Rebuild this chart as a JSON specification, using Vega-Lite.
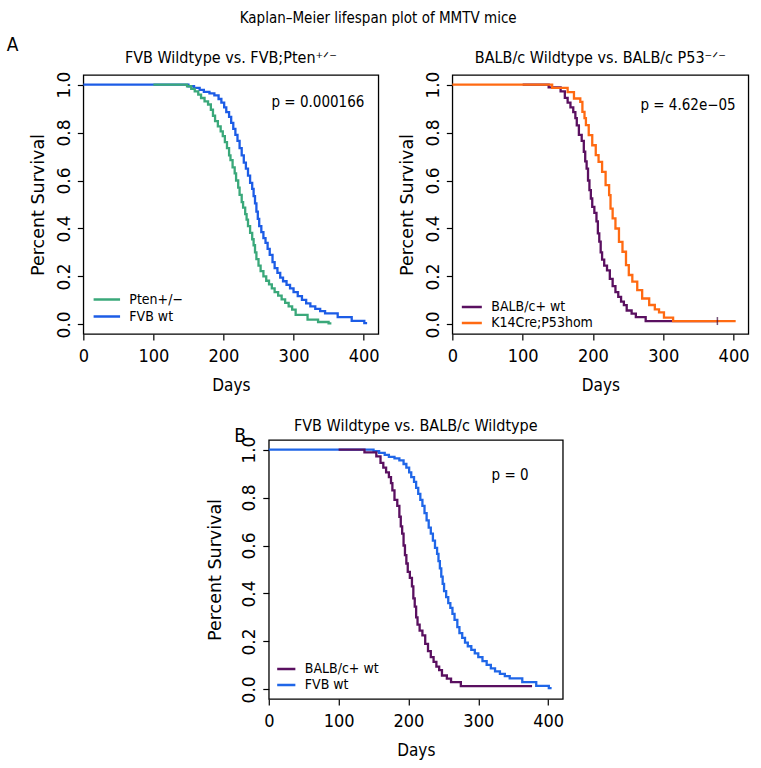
{
  "$schema": "https://vega.github.io/schema/vega-lite/v6.json",
  "background": "white",
  "padding": {"left": 6, "top": 11, "right": 5, "bottom": 5},
  "title": {"text": "Kaplan–Meier lifespan plot of MMTV mice", "fontSize": 15, "anchor": "middle", "offset": 10},
  "datasets": {
    "fvb": [
      {"days": 0, "surv": 1}, {"days": 150, "surv": 0.993}, {"days": 158, "surv": 0.986}, {"days": 166, "surv": 0.978},
      {"days": 172, "surv": 0.97}, {"days": 180, "surv": 0.963}, {"days": 187, "surv": 0.955}, {"days": 193, "surv": 0.94},
      {"days": 197, "surv": 0.925}, {"days": 201, "surv": 0.905}, {"days": 204, "surv": 0.885}, {"days": 208, "surv": 0.865},
      {"days": 211, "surv": 0.84}, {"days": 214, "surv": 0.815}, {"days": 217, "surv": 0.79}, {"days": 220, "surv": 0.765},
      {"days": 223, "surv": 0.735}, {"days": 226, "surv": 0.705}, {"days": 229, "surv": 0.675}, {"days": 232, "surv": 0.65},
      {"days": 235, "surv": 0.62}, {"days": 238, "surv": 0.59}, {"days": 241, "surv": 0.565}, {"days": 243, "surv": 0.535},
      {"days": 245, "surv": 0.505}, {"days": 247, "surv": 0.47}, {"days": 249, "surv": 0.44}, {"days": 251, "surv": 0.41},
      {"days": 254, "surv": 0.385}, {"days": 257, "surv": 0.36}, {"days": 260, "surv": 0.34}, {"days": 263, "surv": 0.315},
      {"days": 266, "surv": 0.29}, {"days": 270, "surv": 0.26}, {"days": 273, "surv": 0.235}, {"days": 277, "surv": 0.215},
      {"days": 281, "surv": 0.195}, {"days": 285, "surv": 0.18}, {"days": 290, "surv": 0.165}, {"days": 295, "surv": 0.15},
      {"days": 300, "surv": 0.135}, {"days": 306, "surv": 0.118}, {"days": 312, "surv": 0.102}, {"days": 318, "surv": 0.088},
      {"days": 324, "surv": 0.075}, {"days": 331, "surv": 0.065}, {"days": 338, "surv": 0.055}, {"days": 345, "surv": 0.046},
      {"days": 363, "surv": 0.03}, {"days": 383, "surv": 0.015}, {"days": 401, "surv": 0.005}, {"days": 405, "surv": 0.005}
    ],
    "pten": [
      {"days": 100, "surv": 1}, {"days": 148, "surv": 0.993}, {"days": 154, "surv": 0.982}, {"days": 159, "surv": 0.972},
      {"days": 164, "surv": 0.958}, {"days": 168, "surv": 0.944}, {"days": 173, "surv": 0.93}, {"days": 178, "surv": 0.917},
      {"days": 182, "surv": 0.895}, {"days": 185, "surv": 0.87}, {"days": 188, "surv": 0.848}, {"days": 192, "surv": 0.826},
      {"days": 196, "surv": 0.805}, {"days": 199, "surv": 0.785}, {"days": 202, "surv": 0.76}, {"days": 205, "surv": 0.735},
      {"days": 208, "surv": 0.705}, {"days": 210, "surv": 0.685}, {"days": 213, "surv": 0.655}, {"days": 216, "surv": 0.63},
      {"days": 218, "surv": 0.6}, {"days": 221, "surv": 0.57}, {"days": 223, "surv": 0.54}, {"days": 226, "surv": 0.51},
      {"days": 228, "surv": 0.487}, {"days": 231, "surv": 0.46}, {"days": 233, "surv": 0.437}, {"days": 235, "surv": 0.41},
      {"days": 238, "surv": 0.382}, {"days": 241, "surv": 0.355}, {"days": 243, "surv": 0.33}, {"days": 245, "surv": 0.3},
      {"days": 247, "surv": 0.272}, {"days": 250, "surv": 0.245}, {"days": 253, "surv": 0.222}, {"days": 257, "surv": 0.2},
      {"days": 261, "surv": 0.182}, {"days": 265, "surv": 0.167}, {"days": 269, "surv": 0.15}, {"days": 273, "surv": 0.135},
      {"days": 278, "surv": 0.12}, {"days": 283, "surv": 0.104}, {"days": 288, "surv": 0.09}, {"days": 293, "surv": 0.075},
      {"days": 298, "surv": 0.062}, {"days": 303, "surv": 0.04}, {"days": 320, "surv": 0.02}, {"days": 335, "surv": 0.01},
      {"days": 350, "surv": 0.004}, {"days": 354, "surv": 0.004}
    ],
    "balb": [
      {"days": 100, "surv": 1}, {"days": 137, "surv": 0.988}, {"days": 154, "surv": 0.972}, {"days": 160, "surv": 0.945},
      {"days": 164, "surv": 0.925}, {"days": 168, "surv": 0.905}, {"days": 172, "surv": 0.885}, {"days": 175, "surv": 0.86},
      {"days": 177, "surv": 0.83}, {"days": 180, "surv": 0.79}, {"days": 184, "surv": 0.765}, {"days": 187, "surv": 0.72},
      {"days": 189, "surv": 0.68}, {"days": 191, "surv": 0.65}, {"days": 193, "surv": 0.6}, {"days": 195, "surv": 0.56},
      {"days": 197, "surv": 0.525}, {"days": 199, "surv": 0.49}, {"days": 202, "surv": 0.465}, {"days": 205, "surv": 0.43},
      {"days": 207, "surv": 0.38}, {"days": 209, "surv": 0.345}, {"days": 211, "surv": 0.3}, {"days": 213, "surv": 0.27},
      {"days": 216, "surv": 0.245}, {"days": 220, "surv": 0.225}, {"days": 224, "surv": 0.19}, {"days": 228, "surv": 0.16},
      {"days": 232, "surv": 0.135}, {"days": 236, "surv": 0.115}, {"days": 240, "surv": 0.095}, {"days": 244, "surv": 0.08},
      {"days": 248, "surv": 0.058}, {"days": 255, "surv": 0.045}, {"days": 261, "surv": 0.03}, {"days": 275, "surv": 0.014},
      {"days": 377, "surv": 0.014}
    ],
    "p53": [
      {"days": 0, "surv": 1}, {"days": 142, "surv": 0.986}, {"days": 164, "surv": 0.969}, {"days": 173, "surv": 0.942},
      {"days": 182, "surv": 0.928}, {"days": 185, "surv": 0.886}, {"days": 188, "surv": 0.86}, {"days": 190, "surv": 0.831},
      {"days": 194, "surv": 0.789}, {"days": 199, "surv": 0.747}, {"days": 204, "surv": 0.706}, {"days": 208, "surv": 0.678},
      {"days": 213, "surv": 0.636}, {"days": 218, "surv": 0.581}, {"days": 223, "surv": 0.539}, {"days": 225, "surv": 0.483},
      {"days": 228, "surv": 0.442}, {"days": 232, "surv": 0.4}, {"days": 237, "surv": 0.344}, {"days": 242, "surv": 0.303},
      {"days": 247, "surv": 0.247}, {"days": 251, "surv": 0.206}, {"days": 256, "surv": 0.178}, {"days": 263, "surv": 0.143},
      {"days": 270, "surv": 0.108}, {"days": 280, "surv": 0.081}, {"days": 288, "surv": 0.063}, {"days": 294, "surv": 0.05},
      {"days": 301, "surv": 0.028}, {"days": 314, "surv": 0.014}, {"days": 403, "surv": 0.014}
    ],
    "censor": [{"days": 377, "surv": 0.014}]
  },
  "config": {
    "font": "'DejaVu Sans Condensed', sans-serif",
    "view": {"stroke": "black", "strokeWidth": 1.3},
    "title": {"font": "'DejaVu Sans Condensed', sans-serif", "fontSize": 16, "fontWeight": "normal", "color": "black"},
    "axis": {"grid": false, "domain": false, "ticks": true, "tickColor": "black", "tickSize": 6, "tickWidth": 1.2,
      "labelFont": "'DejaVu Sans Condensed', sans-serif", "labelFontSize": 18, "labelColor": "black",
      "titleFont": "'DejaVu Sans Condensed', sans-serif", "titleFontSize": 17, "titleFontWeight": "normal", "titleColor": "black",
      "labelFlush": false, "labelOverlap": false},
    "axisX": {"labelPadding": 7, "titlePadding": 12},
    "axisY": {"labelAngle": 270, "labelAlign": "center", "labelBaseline": "alphabetic", "labelPadding": 8, "titlePadding": 8,
      "labelFont": "'DejaVu Sans', sans-serif", "labelFontSize": 17, "titleFont": "'DejaVu Sans', sans-serif", "titleFontSize": 17.5},
    "legend": {"labelFont": "'DejaVu Sans Condensed', sans-serif", "labelFontSize": 14, "labelColor": "black"},
    "text": {"font": "'DejaVu Sans Condensed', sans-serif", "color": "black", "fontSize": 15}
  },
  "vconcat": [
    {
      "title": {"text": "A", "anchor": "start", "frame": "bounds", "fontSize": 19, "dx": -22, "dy": 6, "offset": 0},
      "spacing": 17,
      "resolve": {"scale": {"color": "independent"}, "legend": {"color": "independent"}},
      "hconcat": [
        {
          "width": 295, "height": 259,
          "title": {"text": "FVB Wildtype vs. FVB;Pten⁺ᐟ⁻", "offset": 5},
          "encoding": {
            "x": {"field": "days", "type": "quantitative", "scale": {"domain": [0, 421], "nice": false, "zero": false}, "axis": {"values": [0, 100, 200, 300, 400], "title": "Days"}},
            "y": {"field": "surv", "type": "quantitative", "scale": {"domain": [-0.04, 1.04], "nice": false, "zero": false}, "axis": {"values": [0, 0.2, 0.4, 0.6, 0.8, 1], "format": ".1f", "title": "Percent Survival"}}
          },
          "layer": [
            {"data": {"name": "fvb"}, "mark": {"type": "line", "interpolate": "step-after", "strokeWidth": 2.3},
             "encoding": {"color": {"datum": "FVB wt", "scale": {"domain": ["Pten+/−", "FVB wt"], "range": ["#3aa87a", "#1c5ce6"]},
               "legend": {"title": null, "orient": "none", "legendX": 9, "legendY": 217, "symbolType": "stroke", "symbolSize": 700, "symbolStrokeWidth": 2.5, "clipHeight": 15, "rowPadding": 2, "labelOffset": 8, "padding": 0}}}},
            {"data": {"name": "pten"}, "mark": {"type": "line", "interpolate": "step-after", "strokeWidth": 2.3},
             "encoding": {"color": {"datum": "Pten+/−", "scale": {"domain": ["Pten+/−", "FVB wt"], "range": ["#3aa87a", "#1c5ce6"]},
               "legend": {"title": null, "orient": "none", "legendX": 9, "legendY": 217, "symbolType": "stroke", "symbolSize": 700, "symbolStrokeWidth": 2.5, "clipHeight": 15, "rowPadding": 2, "labelOffset": 8, "padding": 0}}}},
            {"data": {"values": [{"days": 401, "surv": 0.926, "label": "p = 0.000166"}]}, "mark": {"type": "text", "align": "right", "baseline": "middle"},
             "encoding": {"text": {"field": "label"}}}
          ]
        },
        {
          "width": 296, "height": 259,
          "title": {"text": "BALB/c Wildtype vs. BALB/c P53⁻ᐟ⁻", "offset": 5},
          "encoding": {
            "x": {"field": "days", "type": "quantitative", "scale": {"domain": [0, 421], "nice": false, "zero": false}, "axis": {"values": [0, 100, 200, 300, 400], "title": "Days"}},
            "y": {"field": "surv", "type": "quantitative", "scale": {"domain": [-0.04, 1.04], "nice": false, "zero": false}, "axis": {"values": [0, 0.2, 0.4, 0.6, 0.8, 1], "format": ".1f", "title": "Percent Survival"}}
          },
          "layer": [
            {"data": {"name": "balb"}, "mark": {"type": "line", "interpolate": "step-after", "strokeWidth": 2.3},
             "encoding": {"color": {"datum": "BALB/c+ wt", "scale": {"domain": ["BALB/c+ wt", "K14Cre;P53hom"], "range": ["#5a1060", "#ff6a12"]},
               "legend": {"title": null, "orient": "none", "legendX": 8, "legendY": 225, "symbolType": "stroke", "symbolSize": 400, "symbolStrokeWidth": 2.5, "clipHeight": 14, "rowPadding": 2, "labelOffset": 8, "padding": 0}}}},
            {"data": {"name": "p53"}, "mark": {"type": "line", "interpolate": "step-after", "strokeWidth": 2.3},
             "encoding": {"color": {"datum": "K14Cre;P53hom", "scale": {"domain": ["BALB/c+ wt", "K14Cre;P53hom"], "range": ["#5a1060", "#ff6a12"]},
               "legend": {"title": null, "orient": "none", "legendX": 8, "legendY": 225, "symbolType": "stroke", "symbolSize": 400, "symbolStrokeWidth": 2.5, "clipHeight": 14, "rowPadding": 2, "labelOffset": 8, "padding": 0}}}},
            {"data": {"name": "censor"}, "mark": {"type": "tick", "orient": "vertical", "size": 8, "thickness": 1.5, "color": "#3a0a3e"}},
            {"data": {"values": [{"days": 403, "surv": 0.914, "label": "p = 4.62e−05"}]}, "mark": {"type": "text", "align": "right", "baseline": "middle"},
             "encoding": {"text": {"field": "label"}}}
          ]
        }
      ]
    },
    {
      "title": {"text": "B", "anchor": "start", "frame": "bounds", "fontSize": 19, "dx": 28, "dy": 29, "offset": 0},
      "vconcat": [
        {
          "width": 294, "height": 259,
          "title": {"text": "FVB Wildtype vs. BALB/c Wildtype", "offset": 2},
          "encoding": {
            "x": {"field": "days", "type": "quantitative", "scale": {"domain": [0, 421], "nice": false, "zero": false}, "axis": {"values": [0, 100, 200, 300, 400], "title": "Days"}},
            "y": {"field": "surv", "type": "quantitative", "scale": {"domain": [-0.04, 1.04], "nice": false, "zero": false}, "axis": {"values": [0, 0.2, 0.4, 0.6, 0.8, 1], "format": ".1f", "title": "Percent Survival", "titlePadding": 16}}
          },
          "layer": [
            {"data": {"name": "fvb"}, "mark": {"type": "line", "interpolate": "step-after", "strokeWidth": 2.3},
             "encoding": {"color": {"datum": "FVB wt", "scale": {"domain": ["BALB/c+ wt", "FVB wt"], "range": ["#5a1060", "#1f66e8"]},
               "legend": {"title": null, "orient": "none", "legendX": 7, "legendY": 222, "symbolType": "stroke", "symbolSize": 330, "symbolStrokeWidth": 2.5, "clipHeight": 14, "rowPadding": 2, "labelOffset": 8, "padding": 0}}}},
            {"data": {"name": "balb"}, "mark": {"type": "line", "interpolate": "step-after", "strokeWidth": 2.3},
             "encoding": {"color": {"datum": "BALB/c+ wt", "scale": {"domain": ["BALB/c+ wt", "FVB wt"], "range": ["#5a1060", "#1f66e8"]},
               "legend": {"title": null, "orient": "none", "legendX": 7, "legendY": 222, "symbolType": "stroke", "symbolSize": 330, "symbolStrokeWidth": 2.5, "clipHeight": 14, "rowPadding": 2, "labelOffset": 8, "padding": 0}}}},
            {"data": {"values": [{"days": 372, "surv": 0.895, "label": "p = 0"}]}, "mark": {"type": "text", "align": "right", "baseline": "middle"},
             "encoding": {"text": {"field": "label"}}}
          ]
        }
      ]
    }
  ],
  "center": true,
  "spacing": 23,
  "resolve": {"scale": {"color": "independent"}, "legend": {"color": "independent"}}
}
